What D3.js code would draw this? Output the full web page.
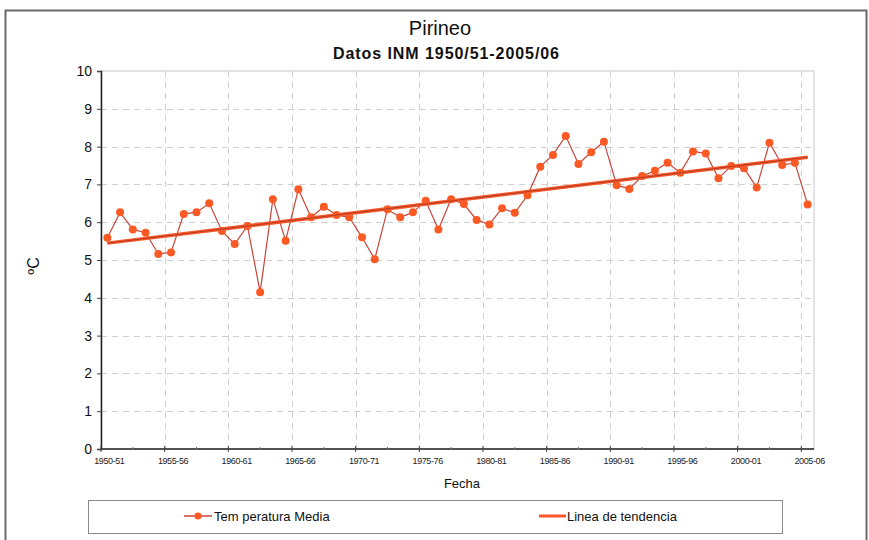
<!DOCTYPE html>
<html>
<head>
<meta charset="utf-8">
<script src="https://cdn.jsdelivr.net/npm/d3@7"></script>
<style>
  body { margin: 0; background: #fff; }
  text { font-family: "Liberation Sans", Arial, sans-serif; }
</style>
</head>
<body>
<script>
const width = 869;
const height = 540;

// seasons 1950-51 ... 2005-06
const seasons = [
  "1950-51","1951-52","1952-53","1953-54","1954-55","1955-56","1956-57","1957-58","1958-59","1959-60",
  "1960-61","1961-62","1962-63","1963-64","1964-65","1965-66","1966-67","1967-68","1968-69","1969-70",
  "1970-71","1971-72","1972-73","1973-74","1974-75","1975-76","1976-77","1977-78","1978-79","1979-80",
  "1980-81","1981-82","1982-83","1983-84","1984-85","1985-86","1986-87","1987-88","1988-89","1989-90",
  "1990-91","1991-92","1992-93","1993-94","1994-95","1995-96","1996-97","1997-98","1998-99","1999-00",
  "2000-01","2001-02","2002-03","2003-04","2004-05","2005-06"
];

const tempMedia = [
  5.59, 6.26, 5.81, 5.72, 5.16, 5.20, 6.22, 6.26, 6.50, 5.77,
  5.42, 5.90, 4.15, 6.61, 5.51, 6.87, 6.13, 6.41, 6.19, 6.13,
  5.60, 5.02, 6.34, 6.13, 6.26, 6.57, 5.81, 6.61, 6.48, 6.06,
  5.94, 6.37, 6.25, 6.71, 7.47, 7.78, 8.28, 7.54, 7.85, 8.13,
  6.98, 6.88, 7.22, 7.36, 7.57, 7.31, 7.87, 7.82, 7.16, 7.49,
  7.43, 6.92, 8.10, 7.51, 7.57, 6.47
];

const xTickLabels = ["1950-51","1955-56","1960-61","1965-66","1970-71","1975-76",
  "1980-81","1985-86","1990-91","1995-96","2000-01","2005-06"];
const yTicks = [0, 1, 2, 3, 4, 5, 6, 7, 8, 9, 10];

const data = seasons.map((s, i) => ({ season: s, value: tempMedia[i] }));

// least squares trend
const n = data.length;
const mx = d3.mean(d3.range(n));
const my = d3.mean(tempMedia);
let sxy = 0, sxx = 0;
tempMedia.forEach((v, i) => { sxy += (i - mx) * (v - my); sxx += (i - mx) * (i - mx); });
const slope = sxy / sxx;
const icpt = my - slope * mx;
const trend = [0, n - 1].map(i => ({ season: seasons[i], value: icpt + slope * i }));

const plot = { left: 101, right: 814, top: 71, bottom: 449 };

const x = d3.scaleBand()
  .domain(seasons)
  .range([plot.left, plot.right]);
const cx = d => x(d) + x.bandwidth() / 2;

const y = d3.scaleLinear()
  .domain([0, 10])
  .range([plot.bottom, plot.top]);

const svg = d3.select('body').append('svg')
  .attr('width', width)
  .attr('height', height);

// outer frame
svg.append('rect')
  .attr('x', 5.5).attr('y', 10.5)
  .attr('width', 861).attr('height', 540)
  .attr('fill', '#fff')
  .attr('stroke', '#6a6a6a')
  .attr('stroke-width', 2);

// titles
svg.append('text')
  .attr('x', 440).attr('y', 35)
  .attr('text-anchor', 'middle')
  .attr('font-size', 20)
  .attr('fill', '#111')
  .text('Pirineo');

svg.append('text')
  .attr('x', 446).attr('y', 59)
  .attr('text-anchor', 'middle')
  .attr('font-size', 16)
  .attr('font-weight', 'bold')
  .attr('textLength', 226)
  .attr('lengthAdjust', 'spacing')
  .attr('fill', '#111')
  .text('Datos INM 1950/51-2005/06');

// plot border
svg.append('rect')
  .attr('x', plot.left).attr('y', plot.top)
  .attr('width', plot.right - plot.left).attr('height', plot.bottom - plot.top)
  .attr('fill', 'none')
  .attr('stroke', '#c8c8c8');

// horizontal grid
svg.append('g')
  .selectAll('line')
  .data(yTicks.filter(t => t > 0 && t < 10))
  .join('line')
  .attr('x1', plot.left).attr('x2', plot.right)
  .attr('y1', d => Math.round(y(d)) + 0.5).attr('y2', d => Math.round(y(d)) + 0.5)
  .attr('stroke', '#cfcfcf')
  .attr('stroke-dasharray', '6,5');

// vertical grid at every 5th season boundary
svg.append('g')
  .selectAll('line')
  .data(xTickLabels.slice(1))
  .join('line')
  .attr('x1', d => Math.round(x(d)) + 0.5).attr('x2', d => Math.round(x(d)) + 0.5)
  .attr('y1', plot.top).attr('y2', plot.bottom)
  .attr('stroke', '#cfcfcf')
  .attr('stroke-dasharray', '6,5');

// y axis
const yAxis = svg.append('g')
  .attr('transform', `translate(${plot.left},0)`)
  .call(d3.axisLeft(y).tickValues(yTicks).tickSize(4).tickPadding(5));
yAxis.select('.domain').attr('stroke', '#222').attr('stroke-width', 1.5);
yAxis.selectAll('.tick line').attr('stroke', '#444');
yAxis.selectAll('.tick text')
  .attr('font-size', 14)
  .attr('fill', '#111')
  .attr('font-family', '"Liberation Sans", Arial, sans-serif');

// x axis
const xAxis = svg.append('g')
  .attr('transform', `translate(0,${plot.bottom})`);
xAxis.append('line')
  .attr('x1', plot.left).attr('x2', plot.right)
  .attr('y1', 0).attr('y2', 0)
  .attr('stroke', '#222').attr('stroke-width', 1.5);
xAxis.selectAll('.major')
  .data(xTickLabels)
  .join('line')
  .attr('class', 'major')
  .attr('x1', d => x(d)).attr('x2', d => x(d))
  .attr('y1', -3).attr('y2', 3)
  .attr('stroke', '#444');
xAxis.selectAll('.minor')
  .data(xTickLabels.slice(0, -1))
  .join('line')
  .attr('class', 'minor')
  .attr('x1', d => x(d) + x.bandwidth() * 2.5).attr('x2', d => x(d) + x.bandwidth() * 2.5)
  .attr('y1', -2).attr('y2', 1)
  .attr('stroke', '#777');
xAxis.selectAll('text')
  .data(xTickLabels)
  .join('text')
  .attr('x', d => cx(d) + 2)
  .attr('y', 15)
  .attr('text-anchor', 'middle')
  .attr('font-size', 9)
  .attr('letter-spacing', -0.4)
  .attr('fill', '#222')
  .text(d => d);

// axis titles
svg.append('text')
  .attr('x', 462).attr('y', 488)
  .attr('text-anchor', 'middle')
  .attr('font-size', 13)
  .attr('fill', '#111')
  .text('Fecha');

svg.append('text')
  .attr('transform', 'translate(39,266) rotate(-90)')
  .attr('text-anchor', 'middle')
  .attr('font-size', 16)
  .attr('fill', '#111')
  .text('ºC');

// series
const line = d3.line().x(d => cx(d.season)).y(d => y(d.value));

svg.append('path')
  .datum(data)
  .attr('d', line)
  .attr('fill', 'none')
  .attr('stroke', '#c8453a')
  .attr('stroke-width', 1.2);

svg.append('g')
  .selectAll('circle')
  .data(data)
  .join('circle')
  .attr('cx', d => cx(d.season))
  .attr('cy', d => y(d.value))
  .attr('r', 4)
  .attr('fill', '#fb5a24');

svg.append('path')
  .datum(trend)
  .attr('d', line)
  .attr('fill', 'none')
  .attr('stroke', '#f8582a')
  .attr('stroke-width', 3.5);
svg.append('path')
  .datum(trend)
  .attr('d', line)
  .attr('fill', 'none')
  .attr('stroke', '#b53a22')
  .attr('stroke-width', 1);

// legend
const legend = svg.append('g');
legend.append('rect')
  .attr('x', 88.5).attr('y', 500.5)
  .attr('width', 694).attr('height', 33)
  .attr('fill', '#fff')
  .attr('stroke', '#8a8a8a');

legend.append('line')
  .attr('x1', 184).attr('x2', 212).attr('y1', 516).attr('y2', 516)
  .attr('stroke', '#c8453a').attr('stroke-width', 1.5);
legend.append('circle')
  .attr('cx', 198).attr('cy', 516).attr('r', 3.5)
  .attr('fill', '#fb5a24');
legend.append('text')
  .attr('x', 214).attr('y', 521)
  .attr('font-size', 13)
  .attr('fill', '#111')
  .text('Tem peratura Media');

legend.append('line')
  .attr('x1', 539).attr('x2', 566).attr('y1', 516).attr('y2', 516)
  .attr('stroke', '#f8582a').attr('stroke-width', 3);
legend.append('text')
  .attr('x', 567).attr('y', 521)
  .attr('font-size', 13)
  .attr('fill', '#111')
  .text('Linea de tendencia');
</script>
</body>
</html>
